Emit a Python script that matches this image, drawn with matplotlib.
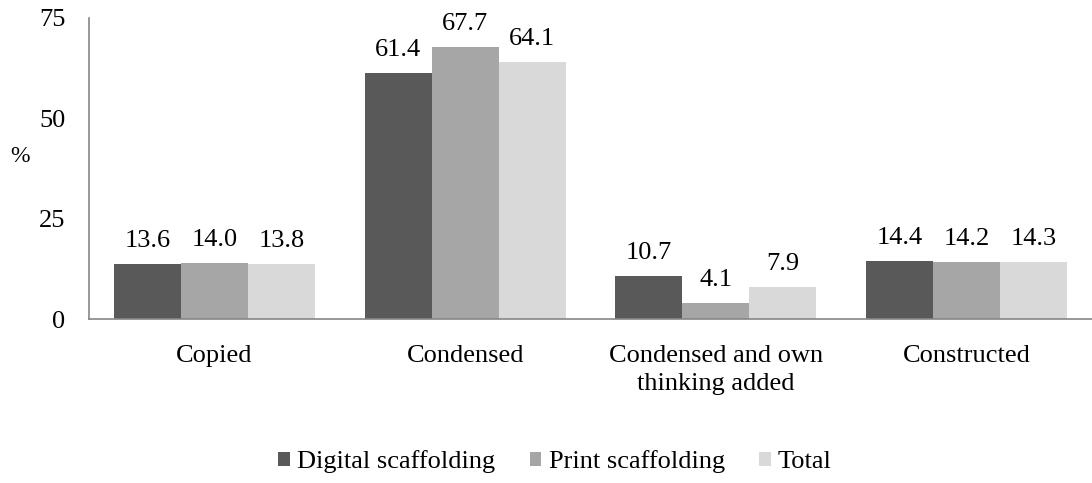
import matplotlib.pyplot as plt
import numpy as np

plt.rcParams['font.family'] = ['Liberation Serif', 'DejaVu Serif']

categories = ['Copied', 'Condensed', 'Condensed and own\nthinking added', 'Constructed']
series = ['Digital scaffolding', 'Print scaffolding', 'Total']
digital = [13.6, 61.4, 10.7, 14.4]
printed = [14.0, 67.7, 4.1, 14.2]
total = [13.8, 64.1, 7.9, 14.3]
colors = ['#595959', '#a6a6a6', '#d9d9d9']

fs = 19
fig = plt.figure(figsize=(10.92, 4.83), dpi=100)
ax = fig.add_axes([89 / 1092, 1 - 319 / 483, 1003 / 1092, 301 / 483])

x = np.arange(len(categories))
w = 0.267
for i, (vals, name) in enumerate(zip([digital, printed, total], series)):
    pos = x + (i - 1) * w
    ax.bar(pos, vals, w, color=colors[i], label=name)
    for px, v in zip(pos, vals):
        ax.text(px, v + 3, f'{v:.1f}', ha='center', va='bottom', fontsize=fs)

ax.set_xlim(-0.5, len(categories) - 0.5)
ax.set_ylim(0, 75)
ax.set_yticks([0, 25, 50, 75])
ax.set_xticks(x)
ax.set_xticklabels(categories, fontsize=fs, linespacing=1.35)
ax.tick_params(axis='y', labelsize=fs, length=0, pad=17)
ax.tick_params(axis='x', length=0, pad=19)
for s in ['top', 'right']:
    ax.spines[s].set_visible(False)
for s in ['left', 'bottom']:
    ax.spines[s].set_color('#868686')
    ax.spines[s].set_linewidth(1.2)
fig.text(20 / 1092, 1 - 157 / 483, '%', fontsize=fs - 2, ha='center', va='center')

fig.legend(loc='center', bbox_to_anchor=(555 / 1092, 1 - 462 / 483),
           ncol=3, frameon=False, fontsize=fs, handlelength=0.45, handleheight=0.45,
           handletextpad=0.27, columnspacing=1.3)

fig.savefig('out.png', dpi=100)
